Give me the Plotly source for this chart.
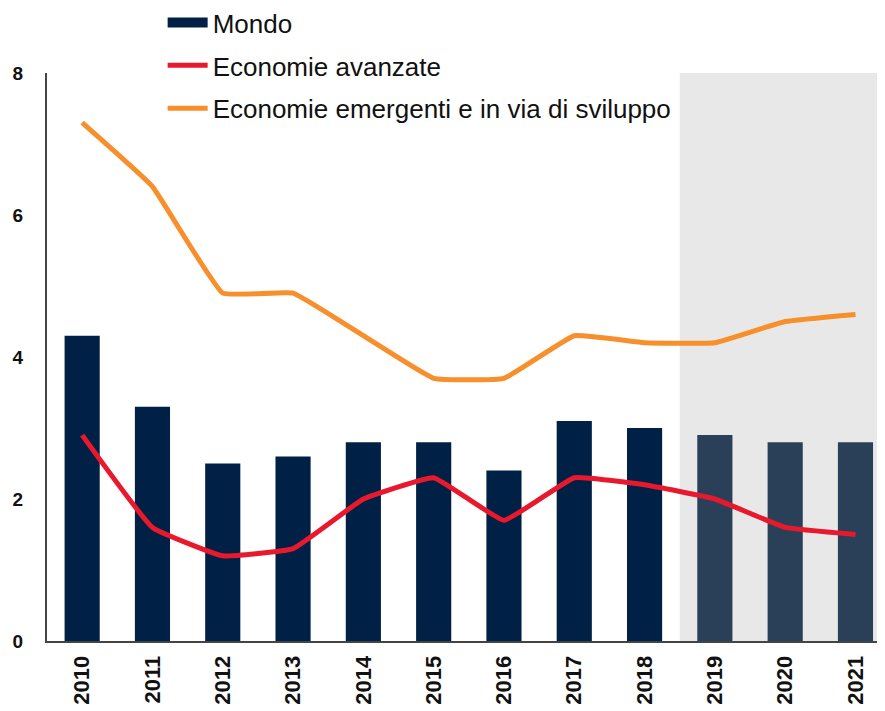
import plotly.graph_objects as go

# dati
anni = ["2010", "2011", "2012", "2013", "2014", "2015", "2016", "2017", "2018", "2019", "2020", "2021"]
mondo = [4.3, 3.3, 2.5, 2.6, 2.8, 2.8, 2.4, 3.1, 3.0, 2.9, 2.8, 2.8]
avanzate = [2.9, 1.6, 1.2, 1.3, 2.0, 2.3, 1.7, 2.3, 2.2, 2.0, 1.6, 1.5]
emergenti = [7.3, 6.4, 4.9, 4.9, 4.3, 3.7, 3.7, 4.3, 4.2, 4.2, 4.5, 4.6]
n_previsioni = 3

navy = "#002145"
colori_bar = [navy] * (len(anni) - n_previsioni) + ["#2a4059"] * n_previsioni

fig = go.Figure()
fig.add_trace(go.Bar(name="Mondo", x=anni, y=mondo, marker_color=colori_bar,
                     marker_line_width=0, showlegend=False))
# voce di legenda per le barre (rettangolo largo)
fig.add_trace(go.Scatter(name="Mondo", x=[None], y=[None], mode="lines",
                         line=dict(color=navy, width=12), legendgroup="a"))
fig.add_trace(go.Scatter(name="Economie avanzate", x=anni, y=avanzate, mode="lines",
                         line=dict(color="#e8192c", width=5, shape="spline", smoothing=0.3),
                         legendgroup="b"))
fig.add_trace(go.Scatter(name="Economie emergenti e in via di sviluppo", x=anni, y=emergenti,
                         mode="lines",
                         line=dict(color="#f68f2c", width=5, shape="spline", smoothing=0.3),
                         legendgroup="c"))

# area previsioni
fig.add_shape(type="rect", xref="x", yref="y", x0=len(anni) - n_previsioni - 0.5, x1=len(anni),
              y0=0, y1=8, fillcolor="#e8e8e8", line_width=0, layer="below")

# la pagina ha 8px di margine nel body
fig.update_layout(
    width=877, height=703,
    margin=dict(l=39, r=0, t=65, b=70, autoexpand=False),
    plot_bgcolor="white", paper_bgcolor="white",
    font=dict(family="Liberation Sans", color="#111111"),
    bargap=0.5,
    showlegend=True,
    legend=dict(x=0.138, y=1.13, xanchor="left", yanchor="top", bgcolor="rgba(0,0,0,0)",
                font=dict(size=26), itemwidth=40, tracegroupgap=6, traceorder="grouped"),
    xaxis=dict(tickangle=-90, tickfont=dict(size=22, family="Liberation Sans", weight="bold"),
               showline=True, linecolor="#444444", linewidth=2, ticks="", showgrid=False,
               range=[-0.5, len(anni) - 0.58], automargin=False, ticklabelstandoff=4),
    yaxis=dict(range=[0, 8], dtick=2, tickfont=dict(size=19, family="Liberation Sans", weight="bold"),
               showline=True, linecolor="#444444", linewidth=2, ticks="", showgrid=False,
               zeroline=False, ticklabelstandoff=18, automargin=False),
)

fig.write_html("out.html")
